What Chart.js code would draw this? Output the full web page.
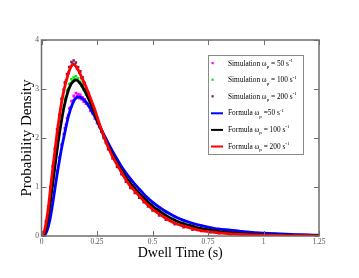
<!DOCTYPE html>
<html><head><meta charset="utf-8">
<script src="https://cdn.jsdelivr.net/npm/chart.js@4/dist/chart.umd.min.js"></script>
<style>html,body{margin:0;padding:0;background:#fff;}canvas{display:block}</style>
</head><body>
<canvas id="c" width="359" height="278"></canvas>
<script>
const dwellTime = [0,0.01,0.02,0.03,0.04,0.05,0.06,0.07,0.08,0.09,0.1,0.105,0.11,0.115,0.12,0.125,0.13,0.135,0.14,0.145,0.15,0.155,0.16,0.165,0.17,0.175,0.18,0.185,0.19,0.195,0.2,0.21,0.22,0.23,0.24,0.25,0.26,0.27,0.28,0.29,0.3,0.32,0.34,0.36,0.38,0.4,0.42,0.44,0.46,0.48,0.5,0.53,0.56,0.6,0.64,0.68,0.72,0.76,0.8,0.85,0.9,0.95,1.0,1.05,1.1,1.15,1.2,1.25];

const formula50 = [0,0.01,0.06,0.18,0.38,0.65,0.95,1.25,1.52,1.78,2.0,2.11,2.22,2.32,2.42,2.5,2.58,2.64,2.7,2.75,2.79,2.81,2.83,2.84,2.84,2.83,2.82,2.8,2.78,2.76,2.74,2.67,2.6,2.52,2.44,2.35,2.26,2.17,2.08,1.99,1.9,1.73,1.57,1.42,1.29,1.17,1.06,0.96,0.86,0.77,0.69,0.59,0.5,0.4,0.32,0.26,0.21,0.17,0.14,0.12,0.095,0.075,0.06,0.047,0.037,0.029,0.022,0.017];
const formula100 = [0,0.03,0.15,0.4,0.72,1.05,1.4,1.75,2.07,2.35,2.6,2.7,2.8,2.88,2.96,3.02,3.07,3.11,3.14,3.16,3.18,3.18,3.18,3.16,3.14,3.11,3.08,3.04,3.0,2.96,2.92,2.82,2.72,2.61,2.5,2.38,2.27,2.16,2.05,1.94,1.84,1.66,1.49,1.34,1.2,1.08,0.97,0.87,0.78,0.69,0.61,0.51,0.42,0.32,0.25,0.2,0.15,0.12,0.09,0.066,0.048,0.037,0.028,0.021,0.016,0.012,0.009,0.007];
const formula200 = [0,0.06,0.25,0.55,0.95,1.35,1.72,2.1,2.42,2.72,2.95,3.05,3.14,3.22,3.3,3.37,3.43,3.47,3.5,3.5,3.49,3.46,3.43,3.39,3.35,3.3,3.25,3.2,3.15,3.1,3.05,2.94,2.82,2.7,2.58,2.44,2.3,2.17,2.05,1.93,1.82,1.62,1.46,1.3,1.15,1.02,0.92,0.82,0.72,0.63,0.55,0.45,0.36,0.26,0.2,0.15,0.11,0.085,0.065,0.045,0.033,0.025,0.018,0.013,0.009,0.006,0.005,0.004];

const simulation50 = [0,0.02,0.09,0.22,0.45,0.72,1.02,1.33,1.6,1.86,2.08,2.2,2.27,2.41,2.47,2.6,2.62,2.75,2.76,2.86,2.82,2.92,2.86,2.9,2.81,2.88,2.79,2.83,2.74,2.79,2.7,2.7,2.55,2.5,2.4,2.3,2.22,2.14,2.03,1.97,1.86,1.71,1.55,1.41,1.27,1.16,1.05,0.95,0.85,0.76,0.68,0.58,0.49,0.4,0.32,0.26,0.21,0.17,0.14,0.115,0.09,0.07,0.055,0.044,0.035,0.027,0.021,0.016];
const simulation100 = [0,0.04,0.18,0.44,0.78,1.12,1.47,1.83,2.14,2.43,2.66,2.8,2.84,2.97,3.0,3.1,3.11,3.2,3.17,3.24,3.2,3.26,3.19,3.22,3.13,3.15,3.06,3.07,2.98,2.98,2.89,2.83,2.69,2.6,2.47,2.37,2.25,2.15,2.03,1.94,1.83,1.66,1.5,1.35,1.21,1.09,0.98,0.88,0.79,0.7,0.62,0.52,0.43,0.33,0.26,0.2,0.16,0.12,0.095,0.07,0.05,0.038,0.029,0.022,0.017,0.013,0.01,0.008];
const simulation200 = [0,0.08,0.3,0.6,1.0,1.42,1.78,2.18,2.47,2.8,2.99,3.13,3.17,3.3,3.33,3.45,3.45,3.55,3.52,3.58,3.5,3.54,3.42,3.45,3.33,3.36,3.22,3.24,3.11,3.12,3.0,2.93,2.77,2.68,2.53,2.41,2.25,2.13,2.0,1.9,1.77,1.58,1.41,1.26,1.11,0.98,0.88,0.78,0.69,0.6,0.52,0.42,0.33,0.24,0.18,0.13,0.1,0.075,0.055,0.04,0.028,0.02,0.014,0.01,0.007,0.005,0.004,0.003];

const xTickValues = [0,0.25,0.5,0.75,1,1.25];
const xTickLabels = ['0','0.25','0.5','0.75','1','1.25'];
const yTickValues = [0,1,2,3,4];
const yTickLabels = ['0','1','2','3','4'];
const xTitle = 'Dwell Time (s)';
const yTitle = 'Probability Density';

const legendEntries = [
  {kind:'sim',  color:'#ff00ff', pre:'Simulation ', mid:' = 50 s'},
  {kind:'sim',  color:'#00ee00', pre:'Simulation ', mid:' = 100 s'},
  {kind:'sim',  color:'#7a1f66', pre:'Simulation ', mid:' = 200 s'},
  {kind:'line', color:'#0000ff', pre:'Formula ', mid:' =50 s'},
  {kind:'line', color:'#000000', pre:'Formula ', mid:' = 100 s'},
  {kind:'line', color:'#ff0000', pre:'Formula ', mid:' = 200 s'}
];

const pts = arr => dwellTime.map((x,i)=>({x:x, y:arr[i]}));
const SERIF = '"Liberation Serif", "DejaVu Serif", serif';

function simDs(arr,color,order){
  return {type:'scatter', data:pts(arr), showLine:false, pointStyle:'rect', pointRadius:1.8,
    pointBackgroundColor:color, pointBorderWidth:0, pointBorderColor:color, order:order};
}
function lineDs(arr,color,order){
  return {type:'scatter', data:pts(arr), showLine:true, borderColor:color, borderWidth:2.8,
    pointRadius:0, tension:0.3, fill:false, order:order};
}

const decor = {
  id:'decor',
  afterDraw(chart){
    const ctx = chart.ctx, a = chart.chartArea;
    const xs = chart.scales.x, ys = chart.scales.y;
    ctx.save();
    ctx.strokeStyle = '#6e6e6e'; ctx.lineWidth = 1.5;
    ctx.strokeRect(a.left, a.top, a.right-a.left, a.bottom-a.top);
    ctx.lineWidth = 1;
    ctx.beginPath();
    xTickValues.forEach(v=>{
      const px = Math.round(xs.getPixelForValue(v))+0.5;
      ctx.moveTo(px, a.bottom); ctx.lineTo(px, a.bottom-5);
      ctx.moveTo(px, a.top); ctx.lineTo(px, a.top+5);
    });
    yTickValues.forEach(v=>{
      const py = Math.round(ys.getPixelForValue(v))+0.5;
      ctx.moveTo(a.left, py); ctx.lineTo(a.left+5, py);
      ctx.moveTo(a.right, py); ctx.lineTo(a.right-5, py);
    });
    ctx.stroke();
    ctx.fillStyle = '#000';
    ctx.font = '14px ' + SERIF;
    ctx.textAlign = 'center'; ctx.textBaseline = 'alphabetic';
    ctx.fillText(xTitle, (a.left+a.right)/2, 257);
    ctx.save();
    ctx.translate(30.5, (a.top+a.bottom)/2);
    ctx.rotate(-Math.PI/2);
    ctx.font = '15px ' + SERIF;
    ctx.fillText(yTitle, 0, 0);
    ctx.restore();
    const bx = 208, by = 55, bw = 95, bh = 99;
    ctx.fillStyle = '#fff';
    ctx.fillRect(bx, by, bw, bh);
    ctx.strokeStyle = '#8a8a8a'; ctx.lineWidth = 1;
    ctx.strokeRect(bx+0.5, by+0.5, bw, bh);
    legendEntries.forEach((e,i)=>{
      const cy = 63 + i*16.6;
      if (e.kind==='sim'){
        ctx.fillStyle = e.color;
        ctx.fillRect(211.5, cy-1, 2.2, 2.2);
      } else {
        ctx.strokeStyle = e.color; ctx.lineWidth = 2;
        ctx.beginPath(); ctx.moveTo(211, cy+0.5); ctx.lineTo(223, cy+0.5); ctx.stroke();
      }
      ctx.fillStyle = '#000';
      ctx.textAlign = 'left'; ctx.textBaseline = 'alphabetic';
      let x = 228;
      const base = cy + 2.5;
      ctx.font = '7.3px ' + SERIF;
      ctx.fillText(e.pre + '\u03C9', x, base);
      x += ctx.measureText(e.pre + '\u03C9').width;
      ctx.font = '5px ' + SERIF;
      ctx.fillText('p', x, base+2.5);
      x += ctx.measureText('p').width;
      ctx.font = '7.3px ' + SERIF;
      ctx.fillText(e.mid, x, base);
      x += ctx.measureText(e.mid).width;
      ctx.font = '5px ' + SERIF;
      ctx.fillText('-1', x, base-3.5);
    });
    ctx.restore();
  }
};

new Chart(document.getElementById('c'), {
  type:'scatter',
  data:{datasets:[
    simDs(simulation50,'#ff00ff',5),
    simDs(simulation100,'#00ee00',4),
    simDs(simulation200,'#7a1f66',3),
    lineDs(formula50,'#0000ff',2),
    lineDs(formula100,'#000000',1),
    lineDs(formula200,'#ff0000',0)
  ]},
  options:{
    responsive:false, animation:false, devicePixelRatio:1,
    layout:{padding:{top:40, right:40, left:0, bottom:0}},
    plugins:{legend:{display:false}, tooltip:{enabled:false}},
    scales:{
      x:{type:'linear', min:0, max:1.25,
        afterFit(s){ s.height = 42; },
        afterBuildTicks(s){ s.ticks = xTickValues.map(v=>({value:v})); },
        grid:{display:false, drawTicks:false}, border:{display:false},
        ticks:{color:'#555', font:{family:SERIF, size:7.5}, padding:2, maxRotation:0, autoSkip:false,
          callback:(v)=>{ const i = xTickValues.findIndex(t=>Math.abs(t-v)<1e-9); return i>=0?xTickLabels[i]:''; }}
      },
      y:{type:'linear', min:0, max:4,
        afterFit(s){ s.width = 41.5; },
        afterBuildTicks(s){ s.ticks = yTickValues.map(v=>({value:v})); },
        grid:{display:false, drawTicks:false}, border:{display:false},
        ticks:{color:'#555', font:{family:SERIF, size:7.5}, padding:2.5, autoSkip:false,
          callback:(v)=>{ const i = yTickValues.findIndex(t=>Math.abs(t-v)<1e-9); return i>=0?yTickLabels[i]:''; }}
      }
    }
  },
  plugins:[decor]
});
</script>
</body></html>
